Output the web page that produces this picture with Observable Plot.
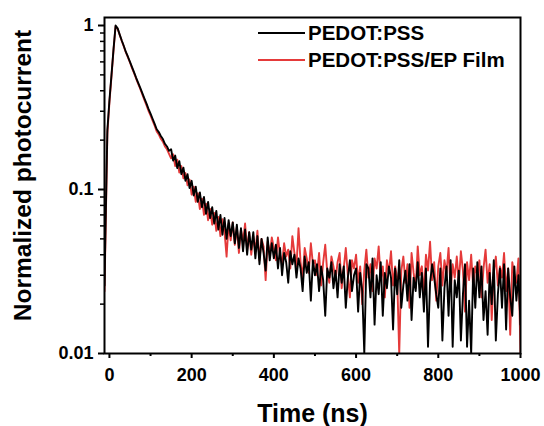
<!DOCTYPE html>
<html>
<head>
<meta charset="utf-8">
<script src="https://cdn.jsdelivr.net/npm/d3@7"></script>
<script src="https://cdn.jsdelivr.net/npm/@observablehq/plot@0.6"></script>
<style>
  html, body { margin: 0; padding: 0; background: #fff; }
  #chart { width: 544px; height: 426px; }
  svg text { font-family: "Liberation Sans", Arial, sans-serif; font-weight: bold; }
</style>
</head>
<body>
<div id="chart"></div>
<script>
// ---- Data ----
const seriesNames = ["PEDOT:PSS", "PEDOT:PSS/EP Film"];
const seriesColors = ["#000000", "#e53a3a"];

const timeNs = [
  -12, -10, -5, 0, 5, 10, 15, 20, 25, 30, 35, 40, 45, 50, 55, 60, 65, 70, 75, 80, 85, 90, 95,
  100, 105, 110, 115, 120, 125, 130, 135, 140, 145,
  150, 155, 160, 165, 170, 175, 180, 185, 190, 195,
  200, 205, 210, 215, 220, 225, 230, 235, 240, 245,
  250, 255, 260, 265, 270, 275, 280, 285, 290, 295,
  300, 305, 310, 315, 320, 325, 330, 335, 340, 345,
  350, 355, 360, 365, 370, 375, 380, 385, 390, 395,
  400, 405, 410, 415, 420, 425, 430, 435, 440, 445,
  450, 455, 460, 465, 470, 475, 480, 485, 490, 495,
  500, 505, 510, 515, 520, 525, 530, 535, 540, 545,
  550, 555, 560, 565, 570, 575, 580, 585, 590, 595,
  600, 605, 610, 615, 620, 625, 630, 635, 640, 645,
  650, 655, 660, 665, 670, 675, 680, 685, 690, 695,
  700, 705, 710, 715, 720, 725, 730, 735, 740, 745,
  750, 755, 760, 765, 770, 775, 780, 785, 790, 795,
  800, 805, 810, 815, 820, 825, 830, 835, 840, 845,
  850, 855, 860, 865, 870, 875, 880, 885, 890, 895,
  900, 905, 910, 915, 920, 925, 930, 935, 940, 945,
  950, 955, 960, 965, 970, 975, 980, 985, 990, 995,
  1000
];

const pedotPss = [
  0.026, 0.05, 0.23, 0.35, 0.50, 0.72, 1.0, 0.96, 0.88, 0.81, 0.75, 0.69, 0.645, 0.60, 0.557, 0.518, 0.48, 0.447, 0.416, 0.387, 0.36, 0.335, 0.31,
  0.29, 0.27, 0.251, 0.233, 0.224, 0.212, 0.203, 0.19, 0.183, 0.172,
  0.176, 0.150, 0.161, 0.135, 0.149, 0.124, 0.136, 0.113, 0.124, 0.102,
  0.113, 0.092, 0.104, 0.084, 0.096, 0.078, 0.090, 0.071, 0.084, 0.067,
  0.078, 0.062, 0.074, 0.057, 0.070, 0.053, 0.067, 0.050, 0.065, 0.052,
  0.063, 0.047, 0.061, 0.044, 0.058, 0.042, 0.057, 0.040, 0.055, 0.043,
  0.055, 0.038, 0.052, 0.035, 0.050, 0.041, 0.032, 0.051, 0.037, 0.047,
  0.038, 0.046, 0.033, 0.044, 0.030, 0.041, 0.036, 0.027, 0.042, 0.035,
  0.040, 0.029, 0.038, 0.033, 0.024, 0.039, 0.031, 0.036, 0.021, 0.037,
  0.030, 0.035, 0.024, 0.034, 0.028, 0.017, 0.033, 0.029, 0.036, 0.025,
  0.032, 0.022, 0.035, 0.027, 0.034, 0.019, 0.029, 0.037, 0.024, 0.030,
  0.033, 0.018, 0.031, 0.024, 0.010, 0.035, 0.033, 0.022, 0.038, 0.015,
  0.030, 0.023, 0.036, 0.017, 0.031, 0.025, 0.034, 0.029, 0.014, 0.033,
  0.023, 0.037, 0.019, 0.026, 0.032, 0.021, 0.035, 0.016, 0.029, 0.024,
  0.036, 0.022, 0.031, 0.018, 0.033, 0.011, 0.027, 0.035, 0.029, 0.023,
  0.019, 0.033, 0.012, 0.025, 0.034, 0.017, 0.037, 0.011, 0.028, 0.022,
  0.032, 0.012, 0.023, 0.035, 0.011, 0.021, 0.010, 0.033, 0.019, 0.036,
  0.022, 0.034, 0.016, 0.024, 0.013, 0.031, 0.020, 0.037, 0.012, 0.023,
  0.033, 0.019, 0.035, 0.014, 0.033, 0.022, 0.017, 0.034, 0.021, 0.030,
  0.015
];

const pedotPssEp = [
  0.024, 0.045, 0.22, 0.34, 0.49, 0.71, 0.99, 0.955, 0.875, 0.805, 0.745, 0.685, 0.64, 0.595, 0.55, 0.512, 0.474, 0.44, 0.41, 0.38, 0.352, 0.327, 0.302,
  0.283, 0.263, 0.245, 0.226, 0.217, 0.204, 0.196, 0.183, 0.176, 0.165,
  0.155, 0.164, 0.139, 0.152, 0.127, 0.139, 0.117, 0.126, 0.106, 0.115,
  0.093, 0.104, 0.084, 0.095, 0.076, 0.088, 0.070, 0.082, 0.065, 0.076,
  0.061, 0.072, 0.056, 0.068, 0.052, 0.066, 0.055, 0.039, 0.062, 0.049,
  0.063, 0.046, 0.059, 0.041, 0.057, 0.048, 0.062, 0.043, 0.055, 0.040,
  0.052, 0.042, 0.056, 0.037, 0.050, 0.045, 0.028, 0.048, 0.040, 0.051,
  0.044, 0.037, 0.051, 0.040, 0.035, 0.047, 0.039, 0.043, 0.033, 0.052,
  0.041, 0.034, 0.058, 0.036, 0.029, 0.044, 0.038, 0.031, 0.047, 0.035,
  0.037, 0.030, 0.041, 0.026, 0.036, 0.046, 0.031, 0.027, 0.039, 0.034,
  0.028, 0.036, 0.041, 0.025, 0.033, 0.044, 0.030, 0.022, 0.037, 0.033,
  0.040, 0.027, 0.034, 0.020, 0.032, 0.043, 0.029, 0.035, 0.024, 0.038,
  0.033, 0.045, 0.028, 0.034, 0.022, 0.037, 0.031, 0.042, 0.026, 0.034,
  0.029, 0.010, 0.032, 0.039, 0.027, 0.035, 0.019, 0.041, 0.031, 0.025,
  0.045, 0.030, 0.034, 0.023, 0.040, 0.032, 0.048, 0.028, 0.036, 0.021,
  0.034, 0.041, 0.026, 0.037, 0.031, 0.044, 0.024, 0.035, 0.029, 0.039,
  0.027, 0.042, 0.032, 0.018, 0.036, 0.028, 0.040, 0.025, 0.034, 0.030,
  0.037, 0.022, 0.033, 0.043, 0.027, 0.035, 0.016, 0.031, 0.039, 0.026,
  0.034, 0.029, 0.041, 0.024, 0.033, 0.013, 0.036, 0.030, 0.027, 0.038,
  0.010
];

const xTicks = [0, 200, 400, 600, 800, 1000];
const xTickLabels = ["0", "200", "400", "600", "800", "1000"];
const xMinorTicks = [100, 300, 500, 700, 900];
const yTicks = [0.01, 0.1, 1];
const yTickLabels = ["0.01", "0.1", "1"];
const yMinorTicks = [0.02, 0.03, 0.04, 0.05, 0.06, 0.07, 0.08, 0.09, 0.2, 0.3, 0.4, 0.5, 0.6, 0.7, 0.8, 0.9];
const xLabel = "Time (ns)";
const yLabel = "Normalized photocurrent";

// ---- Table built from the arrays ----
const rows = [];
[pedotPss, pedotPssEp].forEach((vals, k) => {
  vals.forEach((v, i) => rows.push({t: timeNs[i], v, s: seriesNames[k]}));
});

const font = {fontFamily: "'Liberation Sans', Arial, sans-serif", fontWeight: "bold"};

const plot = Plot.plot({
  width: 544,
  height: 426,
  marginLeft: 104,
  marginRight: 24,
  marginTop: 17,
  marginBottom: 73,
  x: {domain: [-12, 1000]},
  y: {type: "log", domain: [0.01, 1.119]},
  style: {background: "#fff", color: "#000", ...font},
  marks: [
    Plot.lineY(rows.filter(d => d.s === seriesNames[1]), {x: "t", y: "v", stroke: seriesColors[1], strokeWidth: 1.9, clip: true}),
    Plot.lineY(rows.filter(d => d.s === seriesNames[0]), {x: "t", y: "v", stroke: seriesColors[0], strokeWidth: 1.9, clip: true}),
    Plot.frame({stroke: "#000", strokeWidth: 2}),
    Plot.axisX(xTicks, {
      tickSize: 5, tickPadding: 10, strokeWidth: 2,
      tickFormat: d => xTickLabels[xTicks.indexOf(d)],
      fontSize: 18, fontWeight: "bold",
      label: xLabel, labelAnchor: "center", labelOffset: 68, labelArrow: "none"
    }),
    Plot.axisX(xMinorTicks, {tickSize: 3, strokeWidth: 2, tickFormat: () => "", label: null}),
    Plot.axisY(yTicks, {
      tickSize: 6, tickPadding: 5, strokeWidth: 2,
      tickFormat: d => yTickLabels[yTicks.indexOf(d)],
      fontSize: 18, fontWeight: "bold",
      label: yLabel, labelAnchor: "center", labelOffset: 91, labelArrow: "none"
    }),
    Plot.axisY(yMinorTicks, {tickSize: 4, strokeWidth: 1.5, tickFormat: () => "", label: null})
  ]
});

document.getElementById("chart").appendChild(plot);

// ---- Axis title sizes ----
const svg = d3.select(plot);
svg.selectAll('g[aria-label="x-axis label"] text').style("font-size", "25px").style("font-weight", "bold");
svg.selectAll('g[aria-label="y-axis label"]').each(function () {
  const g = d3.select(this);
  g.attr("transform", "translate(0,-10) " + (g.attr("transform") || ""));
});
svg.selectAll('g[aria-label="y-axis label"] text').style("font-size", "24.5px").style("font-weight", "bold");

// ---- Legend (inside the frame, top right) ----
const [fx0, fx1] = plot.scale("x").range;
const [fyb, fyt] = plot.scale("y").range;
const legend = svg.append("g").attr("aria-label", "legend").attr("text-anchor", "start");
seriesNames.forEach((name, k) => {
  const yy = fyt + 16 + k * 27;
  legend.append("line")
    .attr("x1", fx1 - 262).attr("x2", fx1 - 215)
    .attr("y1", yy).attr("y2", yy)
    .attr("stroke", seriesColors[k]).attr("stroke-width", 2);
  legend.append("text")
    .attr("x", fx1 - 212).attr("y", yy)
    .attr("dy", "0.35em")
    .attr("text-anchor", "start")
    .style("font-size", "20.5px").style("font-weight", "bold")
    .style("font-family", "'Liberation Sans', Arial, sans-serif")
    .attr("fill", "#000")
    .text(name);
});
</script>
</body>
</html>
